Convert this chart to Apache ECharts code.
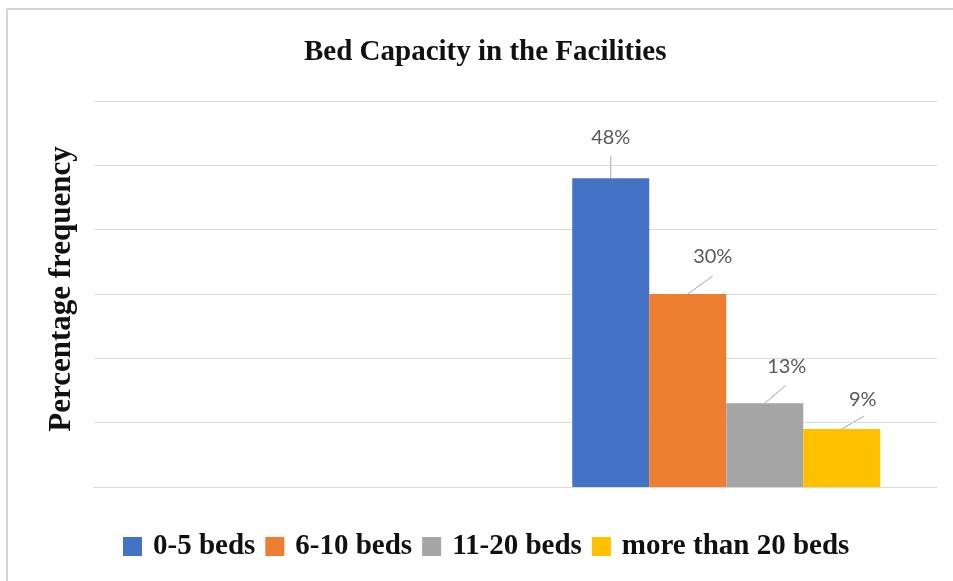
<!DOCTYPE html>
<html>
<head>
<meta charset="utf-8">
<script src="https://cdn.jsdelivr.net/npm/echarts@6/dist/echarts.min.js"></script>
<style>
  html, body { margin: 0; padding: 0; background: #fff; }
  #chart { width: 953px; height: 581px; }
</style>
</head>
<body>
<div id="chart"></div>
<script>
// Two category slots; only the second one carries values.
const categories = ['', ''];
const seriesNames = ['0-5 beds', '6-10 beds', '11-20 beds', 'more than 20 beds'];
const beds0to5 = [null, 48];
const beds6to10 = [null, 30];
const beds11to20 = [null, 13];
const bedsOver20 = [null, 9];
const yTicks = [0, 10, 20, 30, 40, 50, 60];

const values = [beds0to5, beds6to10, beds11to20, bedsOver20];
const colors = ['#4472C4', '#ED7D31', '#A5A5A5', '#FFC000'];
// label offsets relative to the default "top" position, and leader line vectors
const labelOffsets = [[0, -26], [25, -22], [22, -22], [21, -15]];
const leaderVectors = [[0, -22], [25, -18], [21, -18], [22, -13]];

const serifBold = {
  fontFamily: '"Liberation Serif", "Times New Roman", serif',
  fontWeight: 'bold',
  color: '#111'
};

const chart = echarts.init(document.getElementById('chart'), null, { renderer: 'canvas' });

const series = seriesNames.map((name, i) => ({
  name: name,
  type: 'bar',
  data: values[i],
  barWidth: 77,
  barGap: '0%',
  itemStyle: { color: colors[i] },
  label: {
    show: true,
    position: 'top',
    offset: labelOffsets[i],
    formatter: p => p.value + '%',
    fontFamily: 'Lato, "Open Sans", sans-serif',
    fontSize: 20,
    color: '#595959'
  }
}));

chart.setOption({
  animation: false,
  backgroundColor: '#fff',
  title: {
    text: 'Bed Capacity in the Facilities',
    left: 299,
    top: 33,
    textStyle: Object.assign({ fontSize: 29 }, serifBold)
  },
  legend: {
    data: seriesNames,
    left: 118,
    top: 527,
    itemWidth: 19,
    itemHeight: 19,
    itemGap: 10,
    icon: 'rect',
    textStyle: Object.assign({ fontSize: 29, padding: [0, 0, 0, 6] }, serifBold)
  },
  grid: { left: 94, right: 16, top: 101, bottom: 94 },
  xAxis: {
    type: 'category',
    data: categories,
    axisLine: { show: true, lineStyle: { color: '#d9d9d9', width: 1 } },
    axisTick: { show: false },
    axisLabel: { show: false }
  },
  yAxis: {
    type: 'value',
    min: yTicks[0],
    max: yTicks[yTicks.length - 1],
    interval: yTicks[1] - yTicks[0],
    name: 'Percentage frequency',
    nameLocation: 'middle',
    nameGap: 17,
    nameTextStyle: Object.assign({ fontSize: 31, padding: [0, 0, 0, 10] }, serifBold),
    axisLine: { show: false },
    axisTick: { show: false },
    axisLabel: { show: false },
    splitLine: { lineStyle: { color: '#d9d9d9', width: 1 } }
  },
  graphic: [
    {
      id: 'frame-left',
      type: 'line',
      silent: true,
      shape: { x1: 7, y1: 9, x2: 7, y2: 581 },
      style: { stroke: '#d4d4d4', lineWidth: 2 }
    },
    {
      id: 'frame-top',
      type: 'line',
      silent: true,
      shape: { x1: 7, y1: 9, x2: 953, y2: 9 },
      style: { stroke: '#d4d4d4', lineWidth: 2 }
    }
  ],
  series: series
});

// Leader lines from each bar's top centre towards its value label
const leaders = [];
seriesNames.forEach((name, i) => {
  const data = chart.getModel().getSeriesByIndex(i).getData();
  for (let k = 0; k < data.count(); k++) {
    const r = data.getItemLayout(k);
    if (values[i][k] == null || !r) continue;
    const x0 = r.x + r.width / 2;
    const y0 = Math.min(r.y, r.y + r.height);
    leaders.push({
      id: 'leader-' + i + '-' + k,
      type: 'line',
      silent: true,
      shape: { x1: x0, y1: y0, x2: x0 + leaderVectors[i][0], y2: y0 + leaderVectors[i][1] },
      style: { stroke: '#a6a6a6', lineWidth: 1 }
    });
  }
});
chart.setOption({ graphic: leaders });
</script>
</body>
</html>
